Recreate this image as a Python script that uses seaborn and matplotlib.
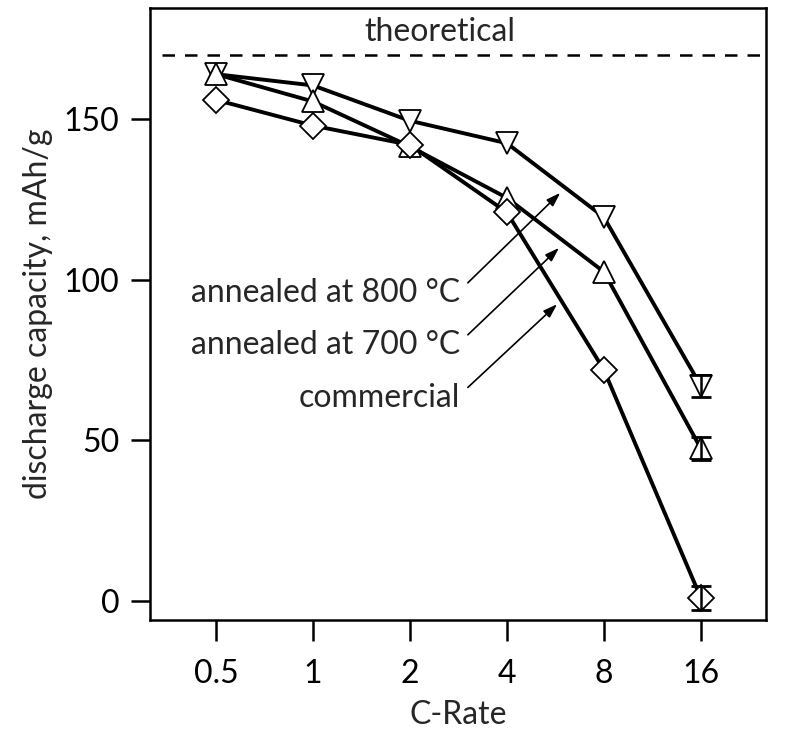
import matplotlib
matplotlib.use("Agg")
import matplotlib.pyplot as plt
import seaborn as sns
import pandas as pd
import numpy as np

c_rate = [0.5, 1, 2, 4, 8, 16]
cap_800 = [164, 160.5, 149.5, 142.5, 119.5, 67]
cap_700 = [164, 155.5, 141.5, 125.5, 102.5, 47.5]
cap_comm = [156, 148, 142, 121, 72, 1]
err_16 = [3.5, 3.7, 3.7]
theoretical = 170
labels = ["annealed at 800 °C", "annealed at 700 °C", "commercial"]

sns.set_theme(style="ticks")
plt.rcParams['font.family'] = ['Lato', 'DejaVu Sans']
FS = 23

fig = plt.figure(figsize=(8, 7.35), dpi=100)
ax = fig.add_axes([150/800, 1-620/735, 616/800, 612/735])

series = [(cap_800, 'v'), (cap_700, '^'), (cap_comm, 'D')]
for (vals, mk) in series:
    df = pd.DataFrame({"C-Rate": c_rate, "cap": vals})
    sns.lineplot(data=df, x="C-Rate", y="cap", ax=ax, color='black', lw=2.8,
                 marker=mk, markersize=16 if mk != 'D' else 13,
                 markerfacecolor='white', markeredgecolor='black',
                 markeredgewidth=1.3, zorder=3)

for (vals, mk), e in zip(series, err_16):
    ax.errorbar([c_rate[-1]], [vals[-1]], yerr=[e], fmt='none', ecolor='black',
                elinewidth=1.8, capsize=7, capthick=2, zorder=5)

ax.axhline(theoretical, color='black', lw=1.8, dashes=(5, 4), xmin=0.02, xmax=1)
ax.text(0.47, 177, "theoretical", transform=ax.get_yaxis_transform(),
        ha='center', va='center', fontsize=FS)

ax.set_xscale('log', base=2)
ax.set_xlim(0.312, 25.5)
ax.set_ylim(-5.9, 184.6)
ax.set_xticks(c_rate)
ax.set_xticklabels(["0.5", "1", "2", "4", "8", "16"])
ax.minorticks_off()
ax.set_yticks([0, 50, 100, 150])

for sp in ax.spines.values():
    sp.set_visible(True)
    sp.set_linewidth(1.8)
    sp.set_color('black')

ax.tick_params(axis='x', which='major', bottom=True, direction='out', length=15, width=1.8,
               pad=13, labelsize=FS, colors='black')
ax.tick_params(axis='y', which='major', left=True, direction='out', length=14, width=1.8,
               pad=8, labelsize=FS, colors='black')
ax.set_xlabel("C-Rate", fontsize=FS, labelpad=8)
ax.set_ylabel("discharge capacity, mAh/g", fontsize=FS, labelpad=8)

text_y = [0.534, 0.449, 0.363]
arrow_end = [(0.666, 0.698), (0.664, 0.608), (0.661, 0.516)]
for lab, ty, (ex, ey) in zip(labels, text_y, arrow_end):
    ax.text(0.503, ty, lab, transform=ax.transAxes, ha='right', va='center', fontsize=FS)
    ax.annotate("", xy=(ex, ey), xycoords='axes fraction',
                xytext=(0.516, ty + 0.017), textcoords='axes fraction',
                arrowprops=dict(arrowstyle='-|>,head_length=0.6,head_width=0.2', color='black', lw=1.2,
                                mutation_scale=14, shrinkA=0, shrinkB=0))

fig.savefig("out.png", dpi=100)
